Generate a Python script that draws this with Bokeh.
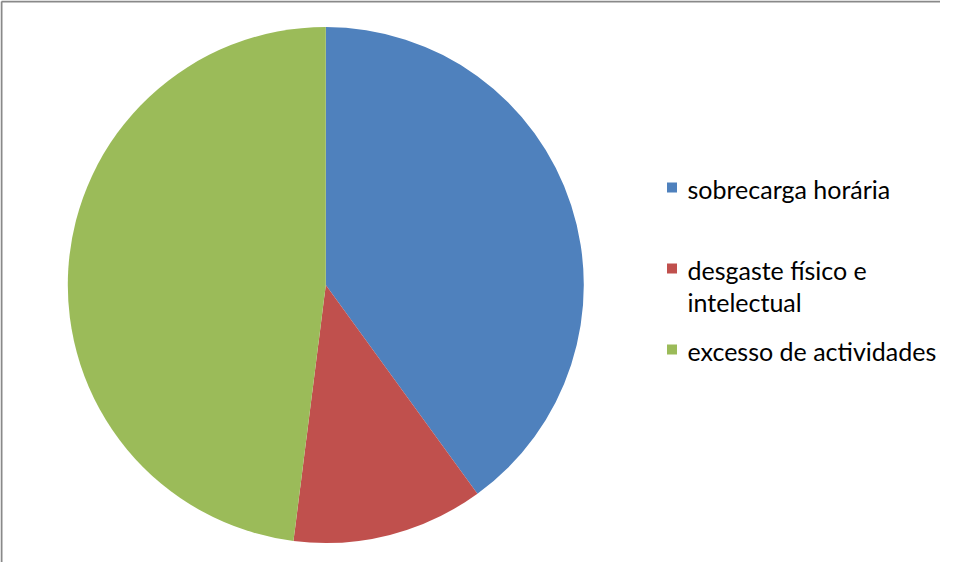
import numpy as np
from bokeh.plotting import figure
from bokeh.models import Range1d, ColumnDataSource
from bokeh.core.properties import value
from bokeh.embed import file_html
from bokeh.resources import INLINE

# data
categories = ["sobrecarga horária", "desgaste físico e\nintelectual", "excesso de actividades"]
values = [40, 12, 48]
colors = ["#4F81BD", "#C0504D", "#9BBB59"]

W, H = 940, 562
p = figure(width=W, height=H, output_backend="svg", toolbar_location=None,
           x_range=Range1d(0, W), y_range=Range1d(0, H), min_border=0,
           match_aspect=False)
p.axis.visible = False
p.grid.visible = False
p.outline_line_color = None
p.background_fill_color = "white"
p.border_fill_color = "white"

# page -> data coordinates helpers (page offset 8px)
def px(x):
    return x - 8
def py(y):
    return H - (y - 8)

# pie
frac = np.array(values, dtype=float) / sum(values)
cum = np.concatenate([[0], np.cumsum(frac)])
start = np.pi / 2 - cum[:-1] * 2 * np.pi
end = np.pi / 2 - cum[1:] * 2 * np.pi
src = ColumnDataSource(dict(start=start, end=end, color=colors))
p.wedge(x=px(333.3), y=py(292.5), radius=258, radius_units="screen",
        start_angle="start", end_angle="end", direction="clock",
        fill_color="color", line_color=None, source=src)

# border (left and top)
p.segment(x0=[1, 1], y0=[0, H - 1], x1=[1, W], y1=[H - 1, H - 1],
          line_color="#898989", line_width=2)

# legend
sq_y = [195, 276, 357]
p.rect(x=[px(679.5)] * 3, y=[py(v) for v in sq_y], width=10, height=10,
       width_units="screen", height_units="screen",
       fill_color=colors, line_color=None)
lines = []
lx, ly = [], []
for cat, yc in zip(categories, sq_y):
    parts = cat.split("\n")
    for i, part in enumerate(parts):
        lines.append(part)
        lx.append(px(695))
        ly.append(py(yc + 1 + i * 32))
p.text(x=lx, y=ly, text=lines, text_font=value("Lato"), text_font_size="25px",
       text_baseline="middle", text_align="left", text_color="#000000")

open("out.html", "w").write(file_html(p, INLINE))
